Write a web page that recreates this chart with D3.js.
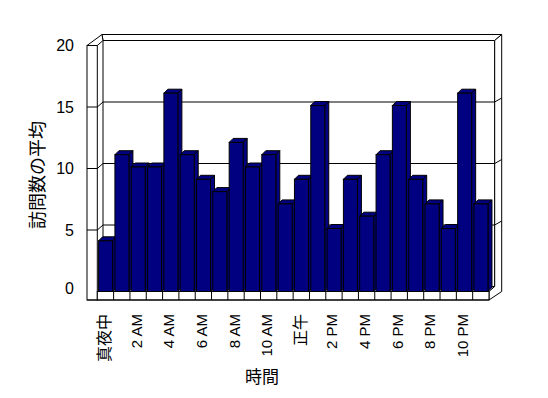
<!DOCTYPE html>
<html><head><meta charset="utf-8">
<script src="https://cdn.jsdelivr.net/npm/d3@7"></script>
<style>body{margin:0;background:#fff}svg{display:block}</style>
</head><body>
<svg id="c" width="548" height="398"></svg>
<script>
const categories = ["真夜中","1 AM","2 AM","3 AM","4 AM","5 AM","6 AM","7 AM","8 AM","9 AM","10 AM","11 AM",
  "正午","1 PM","2 PM","3 PM","4 PM","5 PM","6 PM","7 PM","8 PM","9 PM","10 PM","11 PM"];
const values = [4,11,10,10,16,11,9,8,12,10,11,7,9,15,5,9,6,11,15,9,7,5,16,7];
const yTicks = [0,5,10,15,20];
const yTitle = "訪問数の平均";
const xTitle = "時間";

const svg = d3.select("#c");
const cjk = "'Noto Sans CJK JP', sans-serif";
const lat = "'Liberation Sans', Arial, sans-serif";

const x = d3.scaleBand().domain(categories).range([97.3, 489]).paddingInner(0).paddingOuter(0);
const y = d3.scaleLinear().domain([0, 20]).range([291.5, 45.5]);

const wallL = 87, DX = 5.7, DY = -5, slabX = 7, slabY = -6;
const xL = x.range()[0], xR = x.range()[1];
const yTop = y(20), yBase = y(0), yFloorB = 300;
const backL = xL + DX, backR = xR + DX, backT = yTop + DY;

const g = svg.append("g").attr("fill", "#fff").attr("stroke", "#000").attr("stroke-width", 1);

// back wall
g.append("rect").attr("x", backL).attr("y", backT).attr("width", backR - backL).attr("height", yBase + DY - backT);
// back wall top slab
g.append("path").attr("d", d3.line()([[backL - 1, backT + slabY], [backR + slabX, backT + slabY], [backR, backT], [backL, backT]]) + "Z");
// right slab
g.append("path").attr("d", d3.line()([[backR, backT], [backR + slabX, backT + slabY], [backR + slabX, yBase], [xR, yFloorB], [xR, yBase], [backR, yBase + DY]]) + "Z");
// left wall top
g.append("path").attr("d", d3.line()([[wallL, yTop], [backL - 1, backT + slabY], [backL, backT], [xL, yTop]]) + "Z");
// left wall front face
g.append("rect").attr("x", wallL).attr("y", yTop).attr("width", xL - wallL).attr("height", yFloorB - yTop);

// gridlines
const grid = yTicks.filter(v => v > 0 && v < 20);
grid.forEach(v => {
  const yy = y(v);
  g.append("path").attr("fill", "none").attr("d", d3.line()([[wallL, yy], [xL, yy], [backL, yy + DY], [backR, yy + DY], [backR + slabX, yy + DY - 4]]));
});

// bars
const bw = 14, off = 1.3, bd = 4;
categories.forEach((c, i) => {
  const x0 = x(c) + off, x1 = x0 + bw, yt = y(values[i]) - 1.5;
  const bg = svg.append("g").attr("fill", "#000080").attr("stroke", "#000").attr("stroke-width", 1);
  bg.append("path").attr("d", d3.line()([[x0, yt], [x1, yt], [x1 + bd, yt - bd], [x0 + bd, yt - bd]]) + "Z");
  bg.append("path").attr("d", d3.line()([[x1, yt], [x1 + bd, yt - bd], [x1 + bd, yBase - bd], [x1, yBase]]) + "Z");
  bg.append("rect").attr("x", x0).attr("y", yt).attr("width", bw).attr("height", yBase - yt);
});

// floor front face with cells
const f = svg.append("g").attr("fill", "#fff").attr("stroke", "#000").attr("stroke-width", 1);
f.append("rect").attr("x", xL).attr("y", yBase).attr("width", xR - xL).attr("height", yFloorB - yBase);
categories.slice(1).forEach(c => {
  f.append("line").attr("x1", x(c)).attr("x2", x(c)).attr("y1", yBase).attr("y2", yFloorB);
});
f.append("line").attr("x1", wallL).attr("x2", xR).attr("y1", yFloorB).attr("y2", yFloorB);

// y tick labels
svg.append("g").selectAll("text").data(yTicks).join("text")
  .attr("x", 74).attr("y", d => y(d) - (d === 0 ? 3 : 0))
  .attr("text-anchor", "end").attr("dominant-baseline", "central")
  .attr("font-family", lat).attr("font-size", 16).text(d => d);

// x tick labels (every other)
const isCJK = s => /[\u3000-\u9fff]/.test(s);
svg.append("g").selectAll("text").data(categories.filter((c, i) => i % 2 === 0)).join("text")
  .attr("transform", d => `translate(${x(d) + x.bandwidth() / 2 - 2},314) rotate(-90)`)
  .attr("text-anchor", "end").attr("dominant-baseline", "central")
  .attr("font-family", d => isCJK(d) ? cjk : lat)
  .attr("font-size", d => isCJK(d) ? 16 : 15).text(d => d);

// titles
svg.append("text").attr("transform", "translate(36,175) rotate(-90)")
  .attr("text-anchor", "middle").attr("dominant-baseline", "central")
  .attr("font-family", cjk).attr("font-size", 18).text(yTitle);
svg.append("text").attr("x", 262).attr("y", 375)
  .attr("text-anchor", "middle").attr("dominant-baseline", "central")
  .attr("font-family", cjk).attr("font-size", 17).text(xTitle);
</script>
</body></html>
